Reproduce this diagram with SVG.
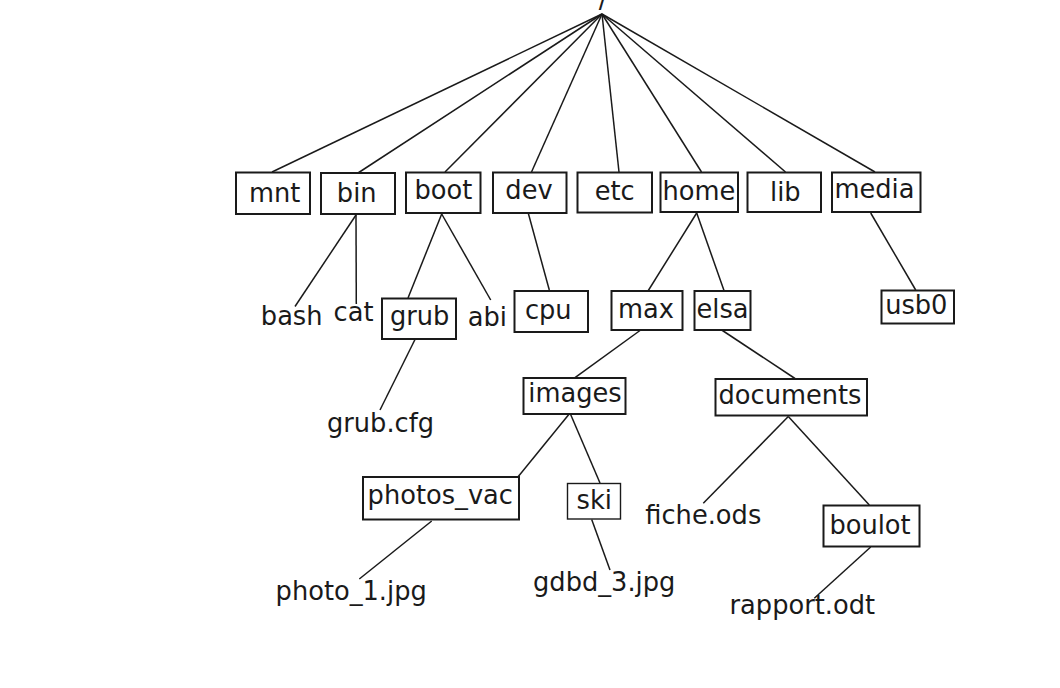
<svg xmlns="http://www.w3.org/2000/svg" width="1060" height="688" viewBox="0 0 1060 688">
<style>
text{font-family:"DejaVu Sans","Liberation Sans",sans-serif;font-size:25.7px;fill:#1a1a1a;text-anchor:middle}
rect{fill:#fff;stroke:#1a1a1a;stroke-width:2}
.thin{stroke-width:1.4}
#edges line{stroke:#1a1a1a;stroke-width:1.5}
</style>
<rect x="0" y="0" width="1060" height="688" style="stroke:none"/>
<g id="edges">
<line x1="602" y1="14" x2="272" y2="172"/>
<line x1="602" y1="14" x2="358" y2="173"/>
<line x1="602" y1="14" x2="445" y2="172"/>
<line x1="602" y1="14" x2="531.5" y2="172"/>
<line x1="602" y1="14" x2="619" y2="172"/>
<line x1="602" y1="14" x2="701.5" y2="172"/>
<line x1="602" y1="14" x2="785.5" y2="172"/>
<line x1="602" y1="14" x2="875" y2="172"/>
<line x1="356" y1="215" x2="295" y2="306.5"/>
<line x1="356" y1="215" x2="356.3" y2="304"/>
<line x1="441.7" y1="214" x2="408" y2="298"/>
<line x1="441.7" y1="214" x2="490.7" y2="300"/>
<line x1="415" y1="339.5" x2="380" y2="410"/>
<line x1="528.3" y1="213.3" x2="549.3" y2="290"/>
<line x1="696.7" y1="213" x2="648.3" y2="290.5"/>
<line x1="696.7" y1="213" x2="724" y2="290.5"/>
<line x1="870.7" y1="213" x2="915.7" y2="290"/>
<line x1="640.7" y1="330" x2="575" y2="377.7"/>
<line x1="721.7" y1="330" x2="795" y2="378.5"/>
<line x1="570" y1="413" x2="518.3" y2="476.5"/>
<line x1="570" y1="413" x2="600" y2="483"/>
<line x1="431.7" y1="521" x2="359.3" y2="579"/>
<line x1="591.7" y1="519.5" x2="610" y2="570"/>
<line x1="788.3" y1="416.5" x2="703.3" y2="503.3"/>
<line x1="788.3" y1="416.5" x2="869.3" y2="505"/>
<line x1="870.7" y1="547" x2="814.3" y2="598.3"/>
</g>
<g id="root"><text x="603" y="8">/</text></g>
<g id="mnt"><rect x="236" y="172.5" width="74" height="41.5"/><text x="274.7" y="202">mnt</text></g>
<g id="bin"><rect x="321" y="173" width="74" height="41"/><text x="356.7" y="202">bin</text></g>
<g id="boot"><rect x="406" y="172.5" width="74.5" height="40.5"/><text x="443.3" y="199">boot</text></g>
<g id="dev"><rect x="493" y="172.5" width="73.5" height="40.5"/><text x="529" y="199">dev</text></g>
<g id="etc"><rect x="577.5" y="172.5" width="74.5" height="40"/><text x="614.7" y="200">etc</text></g>
<g id="home"><rect x="660.5" y="172.5" width="77.5" height="39.5"/><text x="699" y="200">home</text></g>
<g id="lib"><rect x="747.5" y="172.5" width="73.5" height="39.5"/><text x="785.3" y="201">lib</text></g>
<g id="media"><rect x="832" y="172.5" width="88.5" height="39.5"/><text x="874.5" y="198">media</text></g>
<g id="bash"><text x="291.7" y="325">bash</text></g>
<g id="cat"><text x="353.5" y="321">cat</text></g>
<g id="grub"><rect x="382" y="298.5" width="74" height="40.5"/><text x="419.7" y="325">grub</text></g>
<g id="abi"><text x="487.3" y="326">abi</text></g>
<g id="cpu"><rect x="514.5" y="291" width="73.5" height="41"/><text x="548.3" y="319">cpu</text></g>
<g id="max"><rect x="611.5" y="291" width="71" height="39"/><text x="646" y="318">max</text></g>
<g id="elsa"><rect x="694.5" y="291" width="56" height="39"/><text x="722.5" y="318">elsa</text></g>
<g id="usb0"><rect x="881.5" y="290.5" width="72.5" height="33"/><text x="916.3" y="313.5">usb0</text></g>
<g id="grubcfg"><text x="380.5" y="432">grub.cfg</text></g>
<g id="images"><rect x="523.5" y="378" width="102" height="36"/><text x="575" y="402">images</text></g>
<g id="documents"><rect x="715.5" y="379" width="151.5" height="36.5"/><text x="790" y="404">documents</text></g>
<g id="photos_vac"><rect x="363" y="477" width="156" height="42.5"/><text x="440.3" y="503.5">photos_vac</text></g>
<g id="ski"><rect class="thin" x="567.5" y="483.5" width="53" height="35.5"/><text x="594.3" y="508.5">ski</text></g>
<g id="fiche"><text x="703.3" y="523.5">fiche.ods</text></g>
<g id="boulot"><rect x="823.5" y="505.5" width="96" height="41"/><text x="870" y="533.5">boulot</text></g>
<g id="photo1"><text x="351.2" y="600">photo_1.jpg</text></g>
<g id="gdbd"><text x="604.2" y="591">gdbd_3.jpg</text></g>
<g id="rapport"><text x="802.3" y="613.5">rapport.odt</text></g>
</svg>
